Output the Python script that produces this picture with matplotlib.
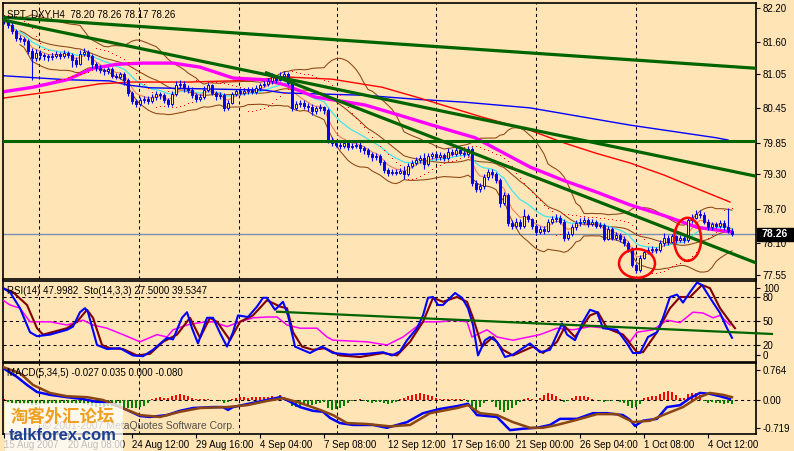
# MT4 style H4 chart of SPT_DXY with RSI/Stochastic and MACD panels

import numpy as np
import pandas as pd
import matplotlib
matplotlib.use("Agg")
import matplotlib.pyplot as plt
from matplotlib.patches import Ellipse, Rectangle

plt.rcParams['font.family'] = ['Liberation Sans', 'DejaVu Sans']

W, H = 794, 451
BG = '#FFE4B5'
BLUE = '#0000FF'
DKGREEN = '#006400'

# ---- price bars ----
first_open = 82.05
closes = [
    81.97, 81.90, 81.80, 81.68, 81.66, 81.62, 81.45, 81.33, 81.42, 81.38,
    81.36, 81.34, 81.37, 81.40, 81.36, 81.41, 81.38, 81.30, 81.22, 81.40,
    81.43, 81.36, 81.22, 81.15, 81.12, 81.10, 81.13, 81.02, 81.00, 81.05,
    80.95, 80.72, 80.58, 80.53, 80.60, 80.62, 80.58, 80.65, 80.70, 80.68,
    80.60, 80.52, 80.70, 80.85, 80.88, 80.80, 80.78, 80.68, 80.62, 80.65,
    80.78, 80.85, 80.72, 80.66, 80.68, 80.45, 80.55, 80.70, 80.75, 80.72,
    80.75, 80.78, 80.74, 80.80, 80.85, 80.88, 80.92, 81.00, 80.95, 81.02,
    81.05, 80.90, 80.45, 80.52, 80.55, 80.50, 80.48, 80.40, 80.45, 80.47,
    80.42, 79.90, 79.85, 79.82, 79.80, 79.85, 79.78, 79.80, 79.82, 79.76,
    79.72, 79.65, 79.60, 79.62, 79.52, 79.38, 79.32, 79.35, 79.33, 79.36,
    79.30, 79.45, 79.50, 79.55, 79.58, 79.48, 79.62, 79.65, 79.60, 79.64,
    79.58, 79.70, 79.66, 79.72, 79.68, 79.66, 79.75, 79.15, 79.05, 79.10,
    79.25, 79.35, 79.30, 79.20, 78.80, 78.95, 78.45, 78.40, 78.48, 78.40,
    78.58, 78.52, 78.40, 78.30, 78.35, 78.32, 78.47, 78.52, 78.55, 78.48,
    78.20, 78.26, 78.38, 78.45, 78.48, 78.50, 78.44, 78.47, 78.40, 78.42,
    78.18, 78.35, 78.20, 78.25, 78.18, 78.10, 78.00, 77.72, 77.63, 77.85,
    77.95, 77.98, 78.00, 77.98, 78.10, 78.20, 78.12, 78.22, 78.15, 78.20,
    78.15, 78.50, 78.55, 78.62, 78.60, 78.48, 78.38, 78.43, 78.40, 78.45,
    78.38, 78.32, 78.26]
highs = [
    82.08, 82.00, 81.95, 81.84, 81.73, 81.70, 81.66, 81.50, 81.48, 81.46,
    81.42, 81.40, 81.42, 81.45, 81.44, 81.47, 81.45, 81.42, 81.35, 81.46,
    81.50, 81.46, 81.40, 81.26, 81.20, 81.16, 81.18, 81.17, 81.06, 81.09,
    81.08, 80.98, 80.76, 80.62, 80.65, 80.67, 80.66, 80.70, 80.75, 80.74,
    80.72, 80.64, 80.75, 80.92, 80.94, 80.92, 80.85, 80.82, 80.72, 80.70,
    80.84, 80.90, 80.88, 80.76, 80.73, 80.72, 80.60, 80.74, 80.79, 80.80,
    80.80, 80.83, 80.82, 80.85, 80.90, 80.93, 80.98, 81.06, 81.04, 81.08,
    81.10, 81.08, 80.93, 80.58, 80.60, 80.60, 80.55, 80.52, 80.50, 80.52,
    80.50, 80.46, 79.95, 79.90, 79.87, 79.90, 79.88, 79.85, 79.88, 79.86,
    79.80, 79.76, 79.69, 79.67, 79.66, 79.55, 79.42, 79.40, 79.40, 79.41,
    79.45, 79.50, 79.55, 79.60, 79.64, 79.68, 79.67, 79.70, 79.69, 79.69,
    79.67, 79.76, 79.74, 79.78, 79.76, 79.72, 79.80, 79.78, 79.20, 79.16,
    79.30, 79.40, 79.40, 79.34, 79.24, 79.00, 78.98, 78.50, 78.54, 78.52,
    78.70, 78.62, 78.55, 78.44, 78.40, 78.40, 78.52, 78.58, 78.62, 78.60,
    78.52, 78.32, 78.43, 78.50, 78.55, 78.56, 78.54, 78.52, 78.51, 78.47,
    78.45, 78.40, 78.38, 78.30, 78.28, 78.22, 78.14, 78.03, 77.76, 77.90,
    78.00, 78.03, 78.05, 78.04, 78.16, 78.28, 78.24, 78.27, 78.25, 78.25,
    78.23, 78.56, 78.62, 78.68, 78.68, 78.64, 78.52, 78.48, 78.47, 78.50,
    78.50, 78.72, 78.36]
lows = [
    81.92, 81.85, 81.74, 81.62, 81.60, 81.55, 81.40, 80.95, 81.28, 81.32,
    81.30, 81.28, 81.30, 81.33, 81.31, 81.33, 81.33, 81.18, 81.17, 81.20,
    81.36, 81.30, 81.15, 81.10, 81.06, 81.04, 81.05, 80.98, 80.96, 80.97,
    80.85, 80.66, 80.52, 80.48, 80.50, 80.55, 80.53, 80.55, 80.60, 80.62,
    80.55, 80.47, 80.50, 80.67, 80.80, 80.74, 80.72, 80.63, 80.57, 80.58,
    80.62, 80.74, 80.68, 80.60, 80.62, 80.40, 80.42, 80.52, 80.66, 80.68,
    80.69, 80.71, 80.70, 80.71, 80.77, 80.82, 80.84, 80.88, 80.90, 80.92,
    80.96, 80.85, 80.40, 80.42, 80.48, 80.44, 80.40, 80.34, 80.36, 80.40,
    80.36, 79.84, 79.80, 79.77, 79.75, 79.76, 79.73, 79.74, 79.76, 79.70,
    79.66, 79.60, 79.54, 79.56, 79.46, 79.33, 79.27, 79.29, 79.29, 79.30,
    79.22, 79.27, 79.42, 79.46, 79.50, 79.40, 79.45, 79.57, 79.55, 79.56,
    79.53, 79.55, 79.62, 79.63, 79.64, 79.60, 79.63, 79.10, 79.00, 79.00,
    79.05, 79.20, 79.24, 79.15, 78.74, 78.76, 78.40, 78.35, 78.36, 78.35,
    78.36, 78.47, 78.35, 78.25, 78.26, 78.27, 78.30, 78.44, 78.48, 78.43,
    78.14, 78.16, 78.22, 78.34, 78.41, 78.44, 78.39, 78.40, 78.36, 78.36,
    78.14, 78.15, 78.16, 78.16, 78.13, 78.06, 77.95, 77.68, 77.58, 77.60,
    77.82, 77.92, 77.93, 77.94, 77.95, 78.06, 78.08, 78.10, 78.11, 78.12,
    78.10, 78.12, 78.46, 78.52, 78.55, 78.44, 78.34, 78.34, 78.36, 78.37,
    78.34, 78.28, 78.22]

# long moving averages as drawn by the terminal (bar index, price)
magenta_bar = [-0.25, 7.25, 15.75, 22.25, 28.25, 34.75, 42.25, 49, 57.25, 65.25, 70.25, 77.75,
               90.25, 98.5, 107, 117.75, 131.5, 139.75, 148.25, 156.5, 164.75, 173.25, 181.5]
magenta_val = [80.74, 80.82, 80.95, 81.15, 81.22, 81.24, 81.24, 81.17, 80.98, 80.95, 80.86, 80.65,
               80.51, 80.34, 80.16, 79.94, 79.43, 79.20, 78.99, 78.77, 78.59, 78.38, 78.30]
red_bar = [-0.25, 11.5, 24, 32, 46, 57, 65, 70, 82, 94.5, 103, 111, 119.5, 131.5, 140, 148,
           156.5, 165, 173, 181.5]
red_val = [80.63, 80.74, 80.88, 80.91, 80.91, 80.93, 80.96, 81.00, 80.96, 80.82, 80.65, 80.48,
           80.30, 80.07, 79.85, 79.67, 79.50, 79.29, 79.06, 78.82]
blue_bar = [-0.25, 15.75, 26.5, 30.75, 36.5, 65, 70, 90, 103, 115, 131.5, 156.5, 178, 181]
blue_val = [81.02, 80.95, 80.93, 80.86, 80.81, 80.77, 80.72, 80.68, 80.61, 80.56, 80.46, 80.16,
            79.94, 79.90]

# drawn objects
trend_bars = [[-0.25, 188], [-0.25, 188], [65.25, 188]]
trend_vals = [[82.04, 81.15], [81.99, 79.27], [81.08, 77.76]]
hline_level = 79.88
last_price = 78.26
circle_bar = [158.25, 170.9]
circle_val = [77.75, 78.17]
circle_w = [9.0, 6.75]
circle_h = [0.50, 0.75]
separator_bars = [8.75, 33.75, 58.75, 83.25, 108, 133, 158]
price_ticks = [82.20, 81.60, 81.05, 80.45, 79.85, 79.30, 78.70, 78.10, 77.55]

# stochastic main / signal and RSI
sto_bar = [-0.25, 1.5, 4, 6.5, 8.25, 11.5, 15.75, 17.25, 19, 20.25, 21, 23.25, 25.75, 29, 32.25,
           34.75, 37.25, 40.75, 42.25, 44.5, 45.75, 47, 48.5, 50.75, 52.25, 54, 55.75, 57.25,
           58.5, 61, 63.25, 64.75, 65.75, 67.75, 69.75, 71, 72.75, 76.5, 79.5, 82.25, 86.5,
           90.75, 94.75, 97, 99, 100.75, 103.25, 104.75, 106, 107.25, 108.5, 109.75, 112.75,
           114.5, 116, 117.25, 118.5, 120.25, 121.5, 123.25, 125.25, 127.25, 131.5, 134, 136.5,
           139.5, 140.75, 142.75, 144.75, 146.5, 148.25, 149.75, 153.25, 155.75, 157.25, 159,
           161, 163.25, 164.75, 166.5, 168.25, 169.75, 171.5, 173.25, 174.5, 176.5, 179,
           180.75, 182]
sto_val = [91, 86, 66, 36, 31, 33, 39, 43, 61, 66, 61, 20, 15, 16, 7, 6, 14, 29, 27, 54,
           61, 41, 22, 54, 54, 35, 18, 36, 57, 55, 68, 79, 79, 64, 74, 57, 18, 10, 18, 10,
           8, 9, 11, 7, 12, 26, 41, 57, 79, 80, 70, 70, 85, 79, 66, 45, 7, 26, 30, 24,
           5, 8, 22, 11, 14, 47, 33, 26, 49, 64, 61, 41, 39, 22, 10, 10, 30, 36, 54, 80,
           83, 73, 86, 98, 95, 79, 60, 41, 29]
sig_bar = [-0.25, 2.25, 5.75, 8.25, 9.75, 15.75, 18.25, 20.75, 22.25, 24.5, 26.5, 29.75, 33.25,
           36.5, 39.75, 43.25, 46.5, 49, 51.5, 53.25, 56.5, 59, 62.25, 65.75, 69, 70.75, 72.25,
           74.5, 77.25, 80.25, 84, 89, 94.75, 98.25, 101.5, 104.75, 107.25, 109.75, 113.25,
           115.75, 117.25, 119.5, 122.25, 124.75, 127.25, 132.25, 134.75, 138.25, 140.25,
           142.75, 146.5, 148.5, 150.75, 154.75, 158.25, 159.75, 163.25, 166.5, 169, 171.5,
           174.5, 176.5, 179, 181.5, 182.75]
sig_val = [91, 86, 70, 41, 33, 41, 49, 64, 54, 20, 16, 15, 7, 9, 24, 33, 54, 29, 54, 49,
           26, 49, 57, 76, 68, 66, 36, 18, 14, 16, 7, 5, 10, 7, 24, 49, 79, 74, 80, 74,
           54, 18, 30, 14, 7, 18, 10, 24, 43, 30, 57, 61, 41, 33, 11, 11, 36, 66, 80, 80,
           95, 91, 66, 49, 41]
rsi_bar = [-0.25, 1.5, 4, 6.5, 11.5, 15.75, 19.75, 22.25, 25.75, 29.75, 34, 38.25, 40.75, 42.25,
           45.75, 49, 52.25, 55.75, 59, 62.25, 65.75, 68.25, 70.75, 74, 78.25, 80.75, 82.25,
           90.75, 95.75, 99.75, 104.75, 109, 112.25, 115.75, 117, 120.75, 123.25, 127.25, 134,
           138.25, 142.25, 146.5, 150.75, 154.75, 156.5, 158.25, 162.25, 165.75, 169, 172.25,
           174.75, 177.25, 179, 181.5]
rsi_val = [76, 70, 66, 49, 49, 45, 51, 45, 41, 33, 24, 33, 30, 39, 45, 48, 49, 43, 49, 54,
           55, 55, 45, 41, 41, 30, 26, 24, 20, 30, 49, 49, 51, 49, 30, 39, 30, 26, 33, 41,
           39, 43, 41, 33, 24, 36, 39, 51, 48, 61, 60, 54, 57, 45]
rsi_trend_bar = [68.25, 192]
rsi_trend_val = [61.6, 33.8]

# MACD main / signal / histogram
macd_bar = [-0.25, 3.25, 5.75, 8.25, 11.5, 15.75, 19.75, 23.25, 26.5, 30.75, 34, 36.5, 40.75, 44,
            47.25, 52.25, 54.75, 56, 57.25, 62.25, 65.75, 69, 70.75, 74, 77.25, 79.75, 81.5, 84,
            87.25, 92.25, 95.75, 100.75, 104.75, 109, 113.25, 116, 118.25, 120.75, 123.25,
            126.5, 129.75, 133.25, 136.5, 139, 143.25, 147.25, 150.75, 154.75, 156.5, 157.75,
            159.75, 163.25, 165.75, 169, 171.5, 174, 176.5, 179, 181.5]
macd_val = [0.68, 0.49, 0.32, 0.17, 0.11, 0.06, 0.02, -0.04, -0.06, -0.21, -0.34, -0.36, -0.32,
            -0.23, -0.17, -0.15, -0.15, -0.21, -0.15, -0.06, 0.0, 0.06, 0.0, -0.15, -0.23, -0.25,
            -0.38, -0.49, -0.53, -0.53, -0.59, -0.47, -0.28, -0.19, -0.13, -0.08, -0.32, -0.34,
            -0.36, -0.64, -0.61, -0.59, -0.53, -0.40, -0.40, -0.28, -0.28, -0.32, -0.42, -0.55,
            -0.44, -0.40, -0.15, -0.11, 0.04, 0.15, 0.13, 0.08, 0.02]
msig_bar = [-0.25, 4, 7.25, 11.5, 15.75, 20.75, 24.75, 29, 34, 39, 44, 49, 55.75, 60.75, 65.75,
            69.75, 74, 79, 82.25, 85.75, 90.75, 96.5, 101.5, 106.5, 113.25, 116, 119, 123.25,
            127.25, 131.5, 134.75, 138.25, 143.25, 148.25, 153.25, 157.25, 161.5, 164.75,
            169.75, 173.25, 176.5, 179.75, 182]
msig_val = [0.70, 0.57, 0.32, 0.15, 0.08, 0.06, 0.0, -0.15, -0.32, -0.36, -0.25, -0.17, -0.15,
            -0.11, -0.02, 0.04, -0.06, -0.21, -0.32, -0.49, -0.51, -0.56, -0.53, -0.28, -0.17,
            -0.11, -0.28, -0.32, -0.47, -0.59, -0.59, -0.53, -0.42, -0.30, -0.30, -0.47, -0.44,
            -0.32, -0.15, 0.04, 0.15, 0.11, 0.06]
hist_vals = [
    0.02, -0.04, -0.06, -0.08, -0.08, -0.09, -0.08, -0.1, -0.1, -0.09,
    -0.08, -0.08, -0.07, -0.08, -0.06, -0.07, -0.06, -0.06, -0.08, -0.07,
    -0.08, -0.1, -0.12, -0.14, -0.13, -0.14, -0.12, -0.13, -0.14, -0.15,
    -0.16, -0.17, -0.16, -0.17, -0.15, -0.12, -0.06, 0.03, 0.05, 0.06,
    0.05, 0.04, 0.08, 0.1, 0.12, 0.11, 0.08, 0.05, 0.03, 0.02,
    0.02, 0.03, 0.01, -0.01, -0.03, -0.06, -0.04, 0.02, 0.04, 0.06,
    0.06, 0.05, 0.06, 0.07, 0.06, 0.07, 0.06, 0.08, 0.07, 0.1,
    0.06, -0.04, -0.12, -0.14, -0.12, -0.1, -0.1, -0.11, -0.08, -0.06,
    -0.04, -0.18, -0.21, -0.2, -0.16, -0.12, -0.06, -0.03, 0.01, 0.02,
    -0.02, -0.04, -0.06, -0.05, -0.04, -0.06, -0.08, -0.06, -0.04, 0.02,
    0.05, 0.08, 0.1, 0.12, 0.14, 0.12, 0.1, 0.08, 0.04, 0.03,
    0.03, 0.02, 0.03, 0.02, 0.03, 0.02, -0.04, -0.17, -0.21, -0.15,
    -0.06, 0.01, -0.05, -0.14, -0.22, -0.25, -0.22, -0.17, -0.1, -0.04,
    0.02, 0.04, 0.02, 0.01, 0.05, 0.1, 0.14, 0.12, 0.08, 0.03,
    -0.04, -0.03, 0.04, 0.08, 0.09, 0.08, 0.06, 0.03, -0.01, -0.03,
    -0.05, -0.02, -0.03, 0.01, -0.04, -0.06, -0.12, -0.17, -0.15, -0.08,
    0.04, 0.07, 0.08, 0.08, 0.12, 0.18, 0.2, 0.17, 0.1, 0.04,
    0.05, 0.12, 0.15, 0.14, 0.1, -0.02, -0.06, -0.05, -0.07, -0.06,
    -0.08, -0.07, -0.08]

time_label_bars = [0, 16, 32, 48, 64, 80, 96, 112, 128, 144, 160, 176]
time_labels = ['15 Aug 2007', '20 Aug 08:00', '24 Aug 12:00', '29 Aug 16:00', '4 Sep 04:00',
               '7 Sep 08:00', '12 Sep 12:00', '17 Sep 16:00', '21 Sep 00:00', '26 Sep 04:00',
               '1 Oct 08:00', '4 Oct 12:00']


def rect(l, t, r, b):
    return [l / W, 1 - b / H, (r - l) / W, (b - t) / H]


def psar(h, l, step=0.02, top=0.2):
    out = np.zeros(len(h))
    bull, af, ep, sar = False, step, l[0], h[0]
    out[0] = sar
    for i in range(1, len(h)):
        sar = sar + af * (ep - sar)
        if bull:
            sar = min(sar, l[i - 1], l[max(i - 2, 0)])
            if l[i] < sar:
                bull, sar, ep, af = False, ep, l[i], step
            elif h[i] > ep:
                ep, af = h[i], min(af + step, top)
        else:
            sar = max(sar, h[i - 1], h[max(i - 2, 0)])
            if h[i] > sar:
                bull, sar, ep, af = True, ep, h[i], step
            elif l[i] < ep:
                ep, af = l[i], min(af + step, top)
        out[i] = sar
    return out


c = np.array(closes)
o = np.concatenate([[first_open], c[:-1]])
hi = np.maximum(np.array(highs), np.maximum(o, c))
lo = np.minimum(np.array(lows), np.minimum(o, c))
x = np.arange(len(c))
s = pd.Series(c)

fig = plt.figure(figsize=(W / 100, H / 100), dpi=100, facecolor=BG)
ax = fig.add_axes(rect(3, 3, 756, 279), facecolor=BG)
ax_rsi = fig.add_axes(rect(3, 280.5, 756, 361.5), facecolor=BG)
ax_macd = fig.add_axes(rect(3, 363, 756, 434), facecolor=BG)

for a in (ax, ax_rsi, ax_macd):
    a.set_xlim(-0.25, 188)
    for sp in a.spines.values():
        sp.set_color('black')
        sp.set_linewidth(1.2)
    a.yaxis.tick_right()
    a.tick_params(axis='y', direction='out', length=3, width=0.8, pad=2, labelsize=7,
                  colors='black')
    a.tick_params(axis='x', bottom=False, labelbottom=False)
    for sb in separator_bars:
        a.axvline(sb, color='black', lw=0.75, ls=(0, (3, 3)), zorder=1)

# ---- main panel ----
ax.set_ylim(77.479, 82.287)
ax.set_yticks(price_ticks)
ax.set_yticklabels([f'{v:.2f}' for v in price_ticks])

mid = s.rolling(20, min_periods=5).mean()
sd = s.rolling(20, min_periods=5).std(ddof=0)
for band in (mid + 2 * sd, mid, mid - 2 * sd):
    ax.plot(x, band, color='#8B4513', lw=0.75, zorder=2)
ax.plot(x, s.ewm(span=13).mean(), color='#3FE6EE', lw=0.9, zorder=2)
ax.plot(x, s.ewm(span=5).mean(), color='#F4805C', lw=0.8, zorder=2)
ax.plot(blue_bar, blue_val, color=BLUE, lw=1.0, zorder=2)
ax.plot(red_bar, red_val, color='#FF0000', lw=1.0, zorder=2)
ax.plot(magenta_bar, magenta_val, color='#FF00FF', lw=2.4, zorder=2)
ax.plot(x, psar(hi, lo), ls='none', marker='s', ms=0.7, mew=0, color='#FF0000', zorder=2)

ax.axhline(hline_level, color=DKGREEN, lw=2.2, zorder=5)
ax.axhline(last_price, color='#7790B0', lw=1.0, zorder=1)
for tb, tv in zip(trend_bars, trend_vals):
    ax.plot(tb, tv, color=DKGREEN, lw=2.3, zorder=5, solid_capstyle='butt')

# candles
ax.vlines(x, lo, hi, color=BLUE, lw=0.8, zorder=3)
bull = c >= o
body_h = np.maximum(np.abs(c - o), 0.006)
ax.bar(x, body_h, bottom=np.minimum(o, c), width=0.72,
       color=np.where(bull, BG, BLUE), edgecolor=BLUE, linewidth=0.7, zorder=4)

for cb, cv, cw, ch in zip(circle_bar, circle_val, circle_w, circle_h):
    ax.add_patch(Ellipse((cb, cv), cw, ch, fill=False, edgecolor='#FF0000', lw=1.8, zorder=6))

ax.text(0.005, 0.978, 'SPT_DXY,H4  78.20 78.26 78.17 78.26', transform=ax.transAxes,
        fontsize=7, va='top', ha='left', zorder=8)

# ---- RSI / Stochastic panel ----
ax_rsi.set_ylim(-0.6, 100.6)
ax_rsi.set_yticks([91, 80, 50, 20, 7.5])
ax_rsi.set_yticklabels(['100', '80', '50', '20', '0'])
for lv in (80, 50, 20):
    ax_rsi.axhline(lv, color='black', lw=0.75, ls=(0, (3, 3)), zorder=1)
ax_rsi.plot(rsi_bar, rsi_val, color='#FF00FF', lw=1.1, zorder=3)
ax_rsi.plot(sig_bar, sig_val, color='#800000', lw=1.5, zorder=3)
ax_rsi.plot(sto_bar, sto_val, color=BLUE, lw=1.5, zorder=4)
ax_rsi.plot(rsi_trend_bar, rsi_trend_val, color=DKGREEN, lw=1.6, zorder=5, clip_on=False)
ax_rsi.text(0.005, 0.93, 'RSI(14) 47.9982  Sto(14,3,3) 27.5000 39.5347',
            transform=ax_rsi.transAxes, fontsize=7, va='top', ha='left', zorder=6)

# ---- MACD panel ----
ax_macd.set_ylim(-0.722, 0.786)
ax_macd.set_yticks([0.64, 0.0, -0.59])
ax_macd.set_yticklabels(['0.764', '0.00', '-0.719'])
ax_macd.axhline(0, color='black', lw=0.75, ls=(0, (3, 3)), zorder=1)
hv = np.array(hist_vals)
ax_macd.bar(x, hv, width=0.7, color=np.where(hv >= 0, '#FF0000', '#008000'), zorder=2)
ax_macd.plot(macd_bar, macd_val, color=BLUE, lw=1.8, zorder=3)
ax_macd.plot(msig_bar, msig_val, color='#8B4513', lw=1.8, zorder=4)
ax_macd.text(0.005, 0.93, 'MACD(5,34,5) -0.027 0.035 0.000 -0.080',
             transform=ax_macd.transAxes, fontsize=7, va='top', ha='left', zorder=6)
ax_macd.text(235 / W, 1 - 426 / H, '\u00a9 2001-2007 MetaQuotes Software Corp.',
             transform=fig.transFigure, fontsize=7.5, color='#505050', ha='right',
             va='center', zorder=6)

ax_macd.tick_params(axis='x', bottom=True, labelbottom=True, direction='out', length=3,
                    width=0.8, pad=1, labelsize=7, colors='black')
ax_macd.set_xticks(time_label_bars)
ax_macd.set_xticklabels(time_labels)
for lab in ax_macd.get_xticklabels():
    lab.set_ha('left')

# last price tag on the scale
fig.patches.append(Rectangle((757 / W, 1 - 241 / H), 37 / W, 13 / H, transform=fig.transFigure,
                             facecolor='black', edgecolor='black', zorder=10))
fig.text(775 / W, 1 - 234.5 / H, '78.26', color='white', fontsize=7.5, fontweight='bold',
         ha='center', va='center', zorder=11)

# forum watermark
fig.patches.append(Rectangle((5 / W, 0), 118 / W, 48 / H, transform=fig.transFigure,
                             facecolor='white', alpha=0.75, edgecolor='none', zorder=20))
fig.text(63 / W, 1 - 417 / H, '淘客外汇论坛', family=['Noto Sans CJK SC', 'DejaVu Sans'],
         fontsize=12.5, fontweight='bold', color='#F0A020', ha='center', va='center', zorder=21)
fig.text(63 / W, 1 - 436 / H, 'talkforex.com', fontsize=12, fontweight='bold', color='#1C3F94',
         ha='center', va='center', zorder=21)

fig.savefig('out.png', dpi=100, facecolor=BG)
